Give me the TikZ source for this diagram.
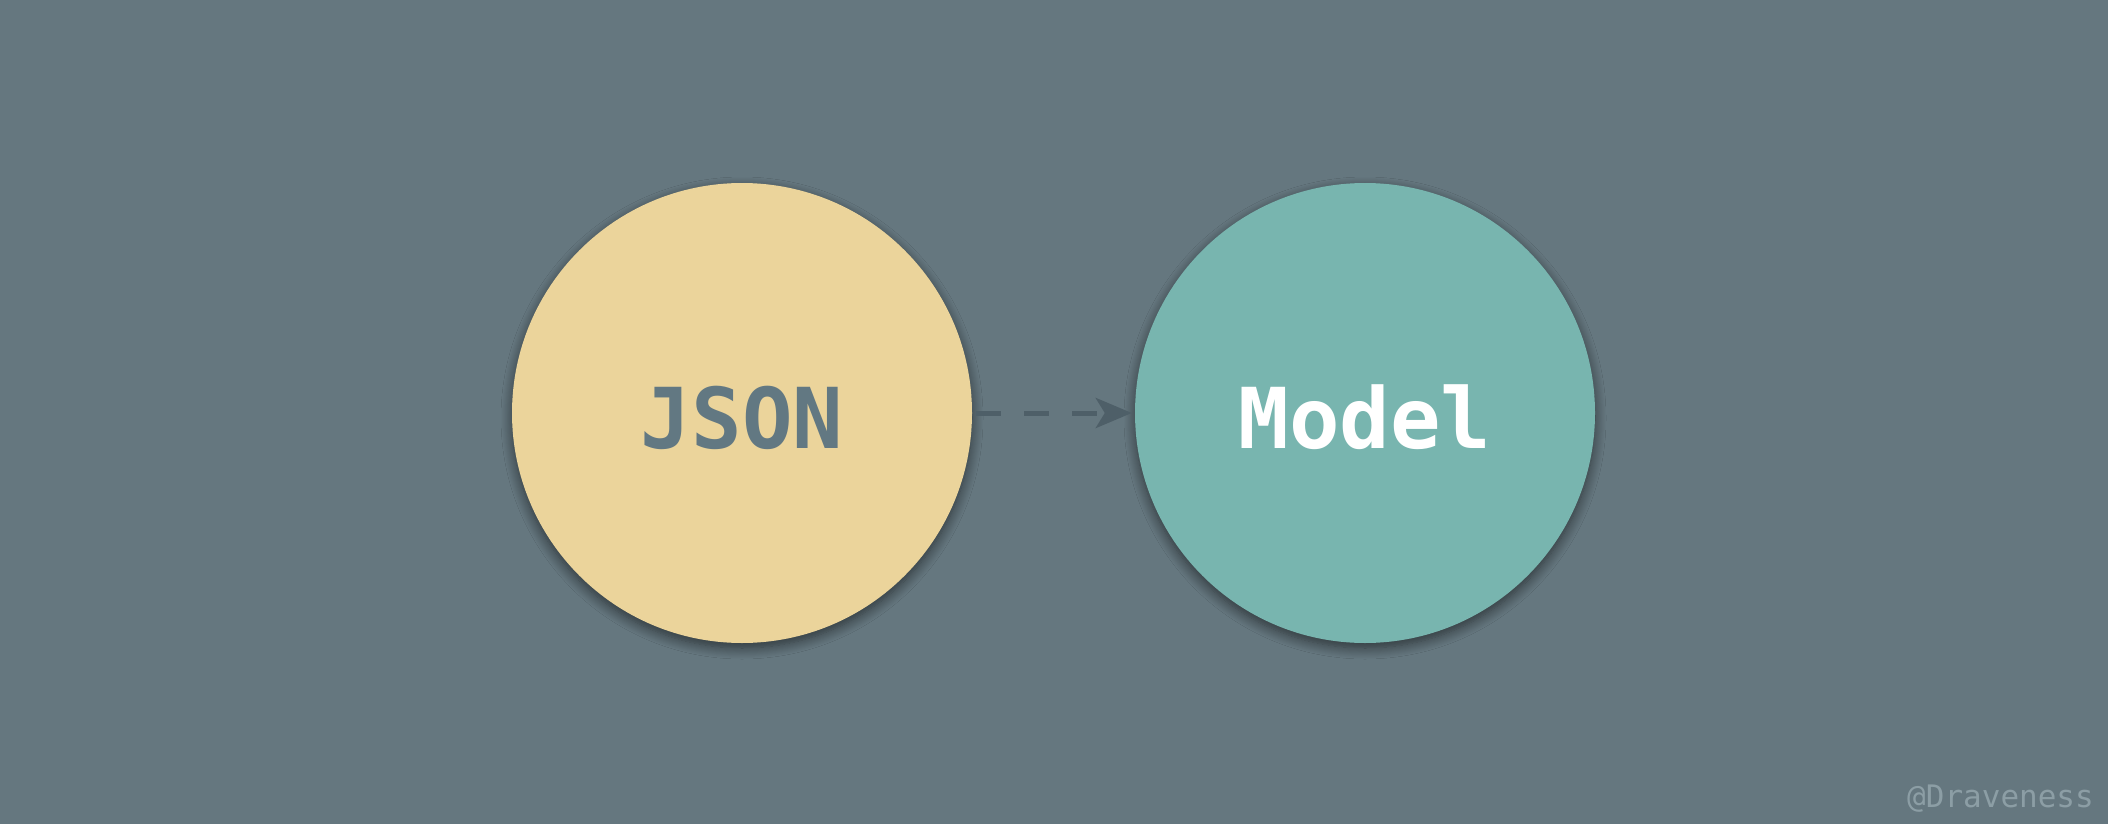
\documentclass[tikz,border=0pt]{standalone}
\usepackage{fontspec}
\setmonofont{DejaVu Sans Mono}
\usetikzlibrary{shadows.blur,arrows.meta}
\definecolor{bg}{HTML}{65777F}
\definecolor{jsonfill}{HTML}{EBD49B}
\definecolor{modelfill}{HTML}{78B5AF}
\definecolor{jsontext}{HTML}{627882}
\definecolor{arrowcol}{HTML}{4E5F68}
\definecolor{marktext}{HTML}{8C9EA5}
\tikzset{
  bubble/.style={circle, minimum size=460pt, inner sep=0pt,
    blur shadow={shadow blur steps=12, shadow xshift=0pt, shadow yshift=-5pt,
      shadow blur radius=11pt, shadow opacity=55}},
  bubbletext/.style={inner sep=0pt, anchor=base,
    font=\ttfamily\bfseries\fontsize{84}{90}\selectfont},
  flow/.style={arrowcol, line width=5pt, dash pattern=on 25pt off 23pt,
    -{Stealth[length=36pt, width=30pt, inset=9pt]}}
}
\begin{document}
\begin{tikzpicture}[x=1pt,y=-1pt]
\fill[bg] (0,0) rectangle (2108,824);
\useasboundingbox (0,0) rectangle (2108,824);
\node[bubble, fill=jsonfill] (json) at (742,413) {};
\node[bubble, fill=modelfill] (model) at (1365,413) {};
\node[bubbletext, text=jsontext] (jsonlabel) at (742,448) {JSON};
\node[bubbletext, text=white] (modellabel) at (1365,448) {Model};
\draw[flow] ([xshift=4pt]json.east) -- ([xshift=-3pt]model.west);
\node[anchor=base east, inner sep=0pt, text=marktext,
  font=\ttfamily\fontsize{31}{34}\selectfont] (mark) at (2094,807) {@Draveness};
\end{tikzpicture}
\end{document}
